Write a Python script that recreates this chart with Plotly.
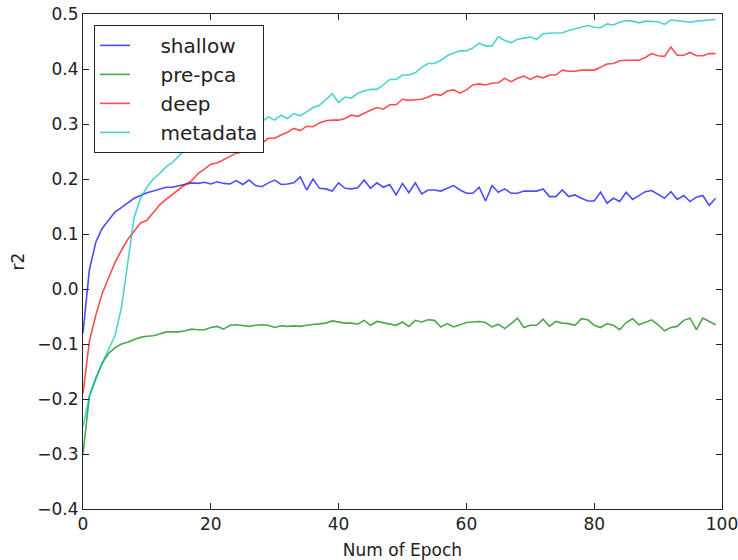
"""
r2 per epoch for the four model variants, matplotlib-classic look.
"""

import plotly.graph_objects as go

EPOCHS = list(range(100))

SHALLOW = [
    -0.08, 0.035, 0.085, 0.11, 0.125, 0.14, 0.148, 0.156, 0.165, 0.17,
    0.175, 0.178, 0.182, 0.185, 0.185, 0.188, 0.19, 0.193, 0.192, 0.194,
    0.191, 0.195, 0.192, 0.191, 0.197, 0.19, 0.198, 0.188, 0.186, 0.193,
    0.198, 0.19, 0.191, 0.193, 0.204, 0.18, 0.2, 0.183, 0.182, 0.178,
    0.193, 0.183, 0.182, 0.184, 0.198, 0.183, 0.193, 0.185, 0.19, 0.171,
    0.192, 0.175, 0.193, 0.173, 0.18, 0.18, 0.178, 0.183, 0.188, 0.18,
    0.174, 0.174, 0.185, 0.16, 0.188, 0.176, 0.182, 0.174, 0.174, 0.178,
    0.178, 0.178, 0.182, 0.168, 0.168, 0.18, 0.168, 0.171, 0.165, 0.16,
    0.16, 0.176, 0.156, 0.165, 0.159, 0.176, 0.163, 0.17, 0.177, 0.179,
    0.172, 0.165, 0.177, 0.163, 0.17, 0.159, 0.167, 0.17, 0.152, 0.165,
]

PRE_PCA = [
    -0.3, -0.195, -0.162, -0.135, -0.117, -0.107, -0.1, -0.097, -0.092, -0.088,
    -0.086, -0.085, -0.082, -0.078, -0.078, -0.078, -0.076, -0.073, -0.074, -0.074,
    -0.07, -0.068, -0.073, -0.066, -0.065, -0.066, -0.068, -0.066, -0.065, -0.066,
    -0.07, -0.067, -0.068, -0.067, -0.068, -0.066, -0.065, -0.063, -0.062, -0.058,
    -0.06, -0.062, -0.062, -0.064, -0.057, -0.066, -0.059, -0.061, -0.063, -0.066,
    -0.06, -0.068, -0.057, -0.06, -0.056, -0.057, -0.069, -0.063, -0.069, -0.065,
    -0.061, -0.06, -0.059, -0.061, -0.069, -0.064, -0.072, -0.063, -0.053, -0.07,
    -0.066, -0.066, -0.055, -0.068, -0.059, -0.062, -0.063, -0.066, -0.054, -0.056,
    -0.066, -0.07, -0.063, -0.066, -0.074, -0.061, -0.054, -0.065, -0.061, -0.056,
    -0.065, -0.076, -0.07, -0.068, -0.057, -0.053, -0.074, -0.053, -0.059, -0.065,
]

DEEP = [
    -0.19, -0.095, -0.048, -0.008, 0.02, 0.048, 0.07, 0.09, 0.105, 0.12,
    0.125, 0.14, 0.153, 0.163, 0.172, 0.182, 0.19, 0.197, 0.21, 0.218,
    0.227, 0.229, 0.235, 0.24, 0.247, 0.249, 0.252, 0.258, 0.265, 0.274,
    0.274, 0.28, 0.285, 0.292, 0.288, 0.296, 0.295, 0.302, 0.306, 0.307,
    0.307, 0.31, 0.316, 0.314, 0.32, 0.325, 0.33, 0.327, 0.335, 0.335,
    0.345, 0.343, 0.344, 0.345, 0.349, 0.354, 0.352, 0.36, 0.362, 0.356,
    0.362, 0.371, 0.373, 0.371, 0.374, 0.375, 0.383, 0.377, 0.383, 0.387,
    0.381, 0.387, 0.384, 0.389, 0.389, 0.398, 0.396, 0.396, 0.398, 0.398,
    0.398, 0.403, 0.409, 0.41, 0.415, 0.416, 0.416, 0.416, 0.421, 0.428,
    0.424, 0.423, 0.44, 0.425, 0.425, 0.43, 0.424, 0.424, 0.428, 0.428,
]

METADATA = [
    -0.25, -0.195, -0.165, -0.135, -0.11, -0.085, -0.035, 0.05, 0.13, 0.165,
    0.185, 0.2, 0.21, 0.222, 0.23, 0.242, 0.253, 0.262, 0.27, 0.277,
    0.283, 0.288, 0.292, 0.296, 0.299, 0.301, 0.303, 0.303, 0.304, 0.313,
    0.307, 0.316, 0.31, 0.319, 0.315, 0.322, 0.33, 0.334, 0.345, 0.355,
    0.339, 0.349, 0.347, 0.356, 0.36, 0.363, 0.363, 0.371, 0.381, 0.381,
    0.389, 0.389, 0.393, 0.403, 0.41, 0.41, 0.416, 0.424, 0.429, 0.433,
    0.433, 0.438, 0.447, 0.442, 0.442, 0.459, 0.452, 0.448, 0.454, 0.456,
    0.458, 0.454, 0.464, 0.465, 0.465, 0.466, 0.47, 0.473, 0.476, 0.479,
    0.476, 0.475, 0.482, 0.48, 0.485, 0.488, 0.487, 0.484, 0.487, 0.487,
    0.486, 0.481, 0.489, 0.488, 0.486, 0.485, 0.487, 0.488, 0.488, 0.49,
]

SERIES = [
    ("shallow", SHALLOW, "rgba(0,0,255,0.7)"),
    ("pre-pca", PRE_PCA, "rgba(0,128,0,0.7)"),
    ("deep", DEEP, "rgba(255,0,0,0.7)"),
    ("metadata", METADATA, "rgba(0,191,191,0.7)"),
]

FONT = "DejaVu Sans"
# widen the gap between legend line sample and label, as matplotlib does
LEGEND_PAD = "\u00a0" * 4


def main() -> None:
    fig = go.Figure()
    for name, values, color in SERIES:
        fig.add_trace(go.Scatter(
            x=EPOCHS,
            y=values,
            name=LEGEND_PAD + name,
            legendgroup=name,
            mode="lines",
            line=dict(color=color, width=1.6),
        ))

    axis_style = dict(
        automargin=False,
        showgrid=False,
        zeroline=False,
        showline=True,
        linecolor="#222",
        linewidth=1,
        mirror="ticks",
        ticks="inside",
        ticklen=6,
        tickcolor="#222",
        tickfont=dict(size=17, color="#222"),
        ticklabeloverflow="allow",
    )

    fig.update_layout(
        width=738,
        height=560,
        margin=dict(l=83, r=16, t=14, b=51),
        paper_bgcolor="white",
        plot_bgcolor="white",
        font=dict(family=FONT, size=17, color="#222"),
        showlegend=True,
        legend=dict(
            x=11 / 639,
            y=0.978,
            xanchor="left",
            yanchor="top",
            bgcolor="white",
            bordercolor="#222",
            borderwidth=1,
            font=dict(size=20),
            tracegroupgap=0,
        ),
        xaxis=dict(
            range=[0, 100],
            tickvals=[0, 20, 40, 60, 80, 100],
            title=dict(text="Num of Epoch", font=dict(size=17), standoff=10),
            **axis_style,
        ),
        yaxis=dict(
            range=[-0.4, 0.5],
            dtick=0.1,
            tickformat=".1f",
            title=dict(text="r2", font=dict(size=17), standoff=8),
            **axis_style,
        ),
    )
    # drop the default body margin so the figure fills the window exactly
    fig.write_html(
        "out.html",
        config={"displayModeBar": False},
        post_script="document.body.style.margin = '0';",
    )


if __name__ == "__main__":
    main()
